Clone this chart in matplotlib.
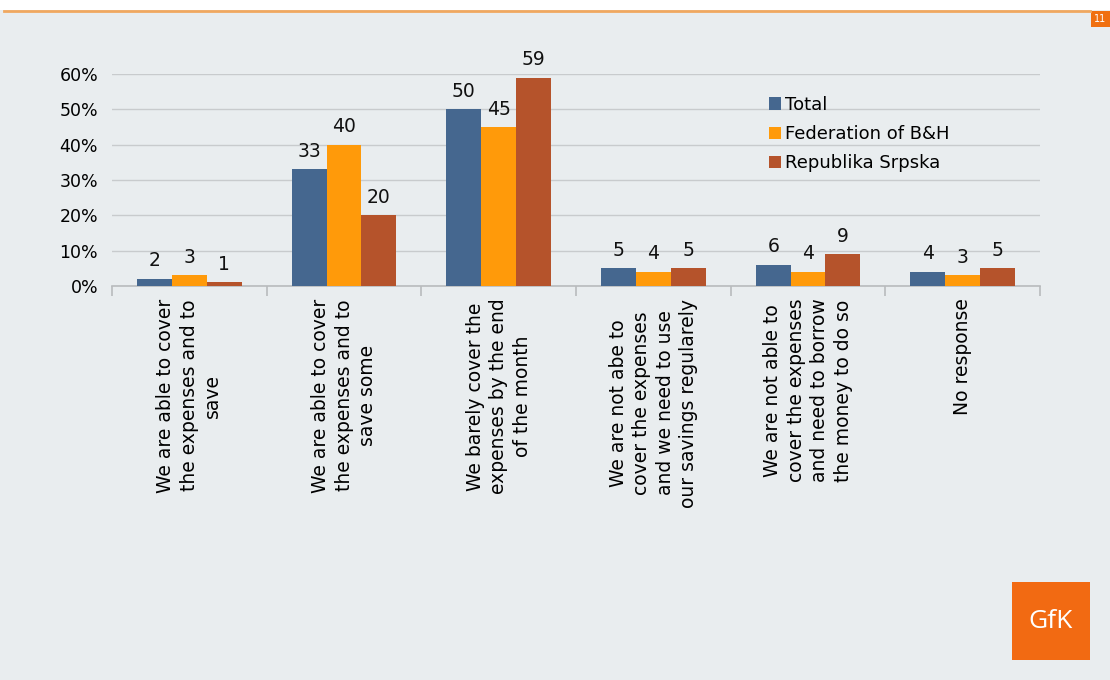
import matplotlib.pyplot as plt
import matplotlib.patches as mpatches
import numpy as np

categories = [
    "We are able to cover\nthe expenses and to\nsave",
    "We are able to cover\nthe expenses and to\nsave some",
    "We barely cover the\nexpenses by the end\nof the month",
    "We are not abe to\ncover the expenses\nand we need to use\nour savings regularely",
    "We are not able to\ncover the expenses\nand need to borrow\nthe money to do so",
    "No response",
]
series_names = ["Total", "Federation of B&H", "Republika Srpska"]
total = [2, 33, 50, 5, 6, 4]
federation = [3, 40, 45, 4, 4, 3]
srpska = [1, 20, 59, 5, 9, 5]
yticks = [0, 10, 20, 30, 40, 50, 60]

colors = ["#45678F", "#FF9A0A", "#B5532B"]
bg = "#E9EDEF"

fig = plt.figure(figsize=(11.1, 6.8), dpi=100)
fig.patch.set_facecolor(bg)
# top white band and orange rule
fig.patches.append(mpatches.Rectangle((0, 1 - 10 / 680), 1, 10 / 680, transform=fig.transFigure,
                                      facecolor="white", edgecolor="none", zorder=0))
fig.lines.append(plt.Line2D([4 / 1110, 1090 / 1110], [1 - 11 / 680, 1 - 11 / 680],
                            transform=fig.transFigure, color="#F0A860", lw=2))
fig.patches.append(mpatches.Rectangle((1091 / 1110, 1 - 27 / 680), 19 / 1110, 16 / 680,
                                      transform=fig.transFigure, facecolor="#F07010",
                                      edgecolor="none", zorder=1))
fig.text(1100 / 1110, 1 - 19 / 680, "11", color="white", fontsize=7, ha="center", va="center")

# GfK logo
fig.patches.append(mpatches.Rectangle((1012 / 1110, 1 - 660 / 680), 78 / 1110, 78 / 680,
                                      transform=fig.transFigure, facecolor="#F26A12",
                                      edgecolor="none", zorder=1))
fig.text(1051 / 1110, 1 - 622 / 680, "GfK", color="white", fontsize=19, ha="center",
         va="center", family="Open Sans")

ax = fig.add_axes([112 / 1110, 1 - 286 / 680, 928 / 1110, 212 / 680])
ax.set_facecolor(bg)

x = np.arange(len(categories))
w = 0.225
for i, (vals, name) in enumerate(zip([total, federation, srpska], series_names)):
    pos = x + (i - 1) * w
    ax.bar(pos, vals, width=w, color=colors[i], label=name, zorder=3)
    for p, v in zip(pos, vals):
        ax.text(p, v + 2.4, str(v), ha="center", va="bottom", fontsize=13.5, color="#111111")

ax.set_xlim(-0.5, len(categories) - 0.5)
ax.set_ylim(0, 60)
ax.set_yticks(yticks)
ax.set_yticklabels([f"{t}%" for t in yticks], fontsize=12.5)
ax.yaxis.grid(True, color="#C8CBCD", lw=1)
ax.set_axisbelow(True)
for s in ["top", "right", "left"]:
    ax.spines[s].set_visible(False)
ax.spines["bottom"].set_color("#B8BBBD")
ax.spines["bottom"].set_linewidth(1.2)
ax.tick_params(axis="y", length=0, pad=10)

ax.set_xticks(np.arange(len(categories) + 1) - 0.5)
ax.set_xticklabels([])
ax.tick_params(axis="x", which="major", length=7, color="#B8BBBD", width=1.2)
ax.set_xticks(x, minor=True)
ax.set_xticklabels(categories, minor=True, rotation=90, fontsize=13.5, ha="center",
                   va="top", multialignment="center", linespacing=1.3)
ax.tick_params(axis="x", which="minor", length=0, pad=9)

ax.legend(loc="upper left", bbox_to_anchor=(0.70, 0.93), frameon=False, fontsize=13,
          handlelength=0.7, handleheight=0.7, handletextpad=0.2, labelspacing=0.62,
          borderaxespad=0)

fig.savefig("out.png", dpi=100, facecolor=bg)
